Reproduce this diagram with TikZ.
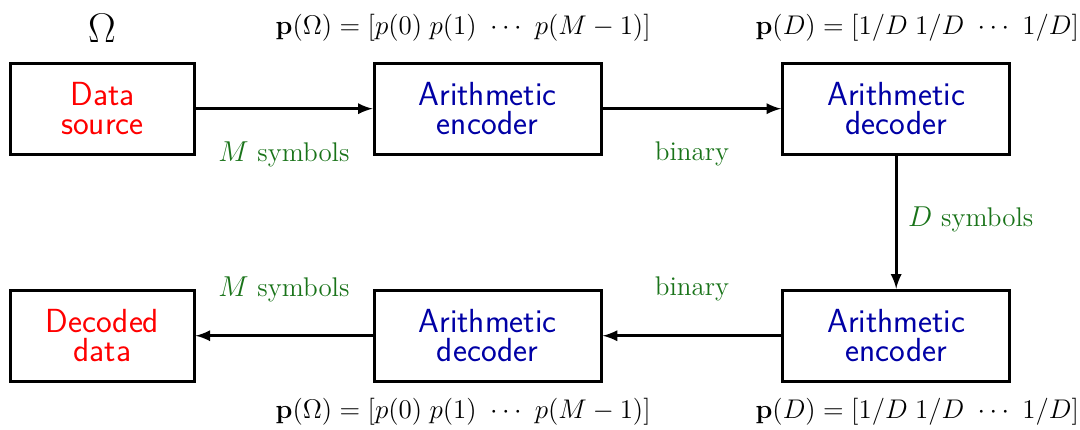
\documentclass[tikz,border=0pt]{standalone}
\usepackage{amsmath}
\definecolor{boxblue}{RGB}{0,0,165}
\definecolor{labgreen}{RGB}{25,115,25}
\begin{document}
\begin{tikzpicture}[>=latex, line width=1.5pt]
      \tikzset{box/.style={draw, minimum height=1.6cm, align=center, font=\fontsize{16.7}{14.5}\selectfont\sffamily},
        lab/.style={font=\fontsize{13.5}{16}\selectfont, text=labgreen},
        prob/.style={font=\Large, scale=0.9375}}
      \useasboundingbox (0,0) rectangle (18.98,-7.556);
      \node[box, minimum width=3.22cm, text=red] (src) at (1.80,-1.91) {Data\\source};
      \node[box, minimum width=3.99cm, text=boxblue] (enc) at (8.57,-1.91) {Arithmetic\\encoder};
      \node[box, minimum width=3.99cm, text=boxblue] (dec) at (15.75,-1.91) {Arithmetic\\decoder};
      \node[box, minimum width=3.99cm, text=boxblue] (enc2) at (15.75,-5.90) {Arithmetic\\encoder};
      \node[box, minimum width=3.99cm, text=boxblue] (dec2) at (8.57,-5.90) {Arithmetic\\decoder};
      \node[box, minimum width=3.22cm, text=red] (out) at (1.80,-5.90) {Decoded\\data};
      \node[font=\fontsize{22}{24}\selectfont] (omega) at (1.79,-0.49) {$\Omega$};
      \node[prob] (pom) at (8.14,-0.49) {$\mathbf{p}(\Omega)=[p(0)\;p(1)\ \cdots\ p(M-1)]$};
      \node[prob] (pd) at (16.12,-0.49) {$\mathbf{p}(D)=[1/D\;1/D\ \cdots\ 1/D]$};
      \node[prob] (pom2) at (8.14,-7.24) {$\mathbf{p}(\Omega)=[p(0)\;p(1)\ \cdots\ p(M-1)]$};
      \node[prob] (pd2) at (16.12,-7.24) {$\mathbf{p}(D)=[1/D\;1/D\ \cdots\ 1/D]$};
      \node[lab] (msym) at (4.99,-2.71) {$M$ symbols};
      \node[lab] (bin) at (12.16,-2.71) {binary};
      \node[lab] (dsym) at (17.06,-3.85) {$D$ symbols};
      \node[lab] (msym2) at (4.99,-5.08) {$M$ symbols};
      \node[lab] (bin2) at (12.16,-5.08) {binary};
      \draw[->] (src) -- (enc);
      \draw[->] (enc) -- (dec);
      \draw[->] (dec) -- (enc2);
      \draw[->] (enc2) -- (dec2);
      \draw[->] (dec2) -- (out);
    \end{tikzpicture}
\end{document}
